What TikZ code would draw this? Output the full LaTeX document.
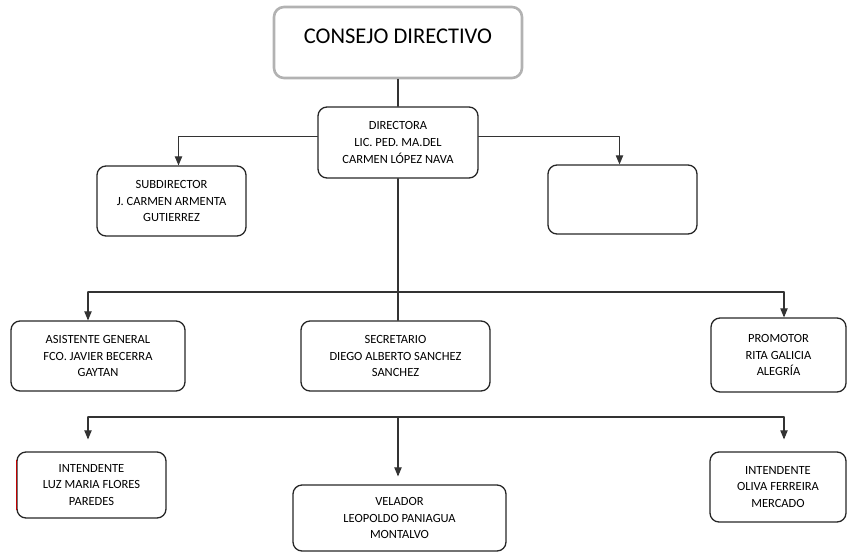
\documentclass[tikz,border=0pt]{standalone}
\usepackage{fontspec}
\setmainfont{Carlito}
\usetikzlibrary{arrows}

\begin{document}
\begin{tikzpicture}[x=1pt,y=-1pt,line cap=round,line join=round,>=triangle 45,
    cargo/.style={draw=black!85,line width=1.3pt,rounded corners=9pt,align=center,inner sep=0pt,font=\fontsize{12.5}{16.7}\selectfont},
    linea/.style={draw=black!80,line width=1.1pt}]
        \useasboundingbox (0,0) rectangle (848,552);
        % nivel 1
        \node[draw=black!30,line width=2.6pt,rounded corners=10pt,minimum width=248pt,inner xsep=0pt,inner ysep=0pt,text height=36pt,text depth=35pt,font=\fontsize{22.5}{24}\selectfont] (consejo) at (398,42.5) {CONSEJO DIRECTIVO};
        \node[cargo,minimum width=160pt,minimum height=71pt] (dir) at (398,142.5) {DIRECTORA\\LIC. PED. MA.DEL\\CARMEN LÓPEZ NAVA};
        % nivel 2
        \node[cargo,minimum width=149pt,minimum height=70pt] (sub) at (171.5,201) {SUBDIRECTOR\\J. CARMEN ARMENTA\\GUTIERREZ};
        \node[cargo,minimum width=149pt,minimum height=69pt] (vacio) at (622.5,199.5) {};
        % nivel 3
        \node[cargo,minimum width=174pt,minimum height=70pt] (asis) at (98,356) {ASISTENTE GENERAL\\FCO. JAVIER BECERRA\\GAYTAN};
        \node[cargo,minimum width=189pt,minimum height=70pt] (secre) at (395.5,356) {SECRETARIO\\DIEGO ALBERTO SANCHEZ\\SANCHEZ};
        \node[cargo,minimum width=135pt,minimum height=74pt] (promo) at (778.5,355) {PROMOTOR\\RITA GALICIA\\ALEGRÍA};
        % nivel 4
        \node[cargo,minimum width=149pt,minimum height=66pt] (intA) at (91.5,485) {INTENDENTE\\LUZ MARIA FLORES\\PAREDES};
        \node[cargo,minimum width=213pt,minimum height=66pt] (vela) at (399.5,518) {VELADOR\\LEOPOLDO PANIAGUA\\MONTALVO};
        \node[cargo,minimum width=136pt,minimum height=70pt] (intB) at (778,487) {INTENDENTE\\OLIVA FERREIRA\\MERCADO};
        \draw[line width=1.3pt,red!75!black] ([yshift=-9pt]intA.north west) -- ([yshift=9pt]intA.south west);

        % conectores
        \draw[linea] (consejo.south) -- (dir.north);
        \draw[linea,->] ([yshift=6pt]dir.west) -| ([xshift=7pt]sub.north);
        \draw[linea,->] ([yshift=6pt]dir.east) -| ([xshift=-3pt]vacio.north);
        \draw[linea] (dir.south) -- (secre.north -| dir.south);
        \coordinate (ramaA) at (88,292);
        \coordinate (ramaB) at (784,292);
        \draw[linea] (ramaA) -- (ramaB);
        \draw[linea,->] (ramaA) -- (ramaA |- asis.north);
        \draw[linea,->] (ramaB) -- (ramaB |- promo.north);
        \coordinate (bajoA) at (88,417);
        \coordinate (bajoB) at (784,417);
        \coordinate (bajoC) at (398,417);
        \draw[linea] (bajoA) -- (bajoB);
        \draw[linea,->] (bajoA) -- ([yshift=12pt]bajoA |- intA.north);
        \draw[linea,->] (bajoB) -- ([yshift=12pt]bajoB |- intB.north);
        \draw[linea,->] (bajoC) -- ([yshift=8pt]bajoC |- vela.north);
      \end{tikzpicture}
\end{document}
